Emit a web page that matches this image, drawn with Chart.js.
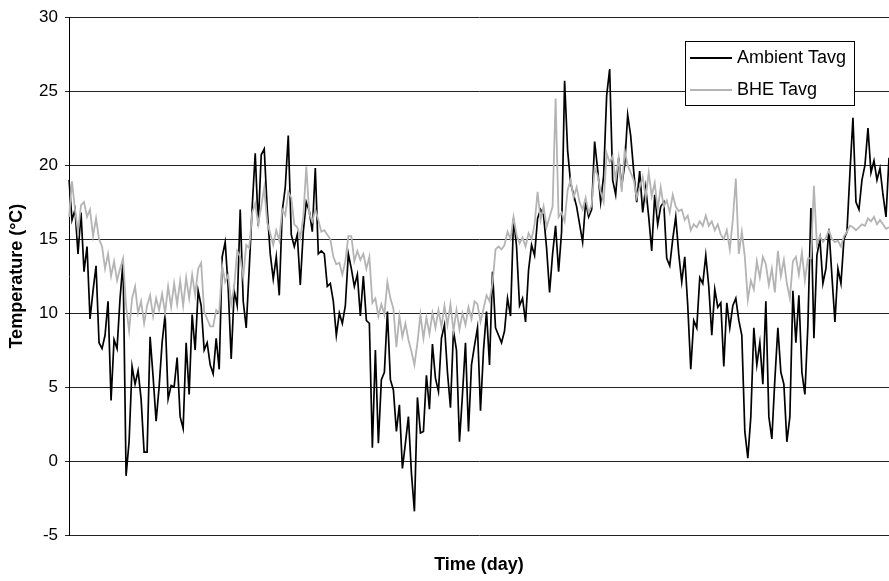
<!DOCTYPE html>
<html>
<head>
<meta charset="utf-8">
<title>Temperature (°C)</title>
<script src="https://cdn.jsdelivr.net/npm/chart.js@4.4.1/dist/chart.umd.min.js"></script>
<style>
  html, body { margin: 0; padding: 0; background: #ffffff; }
  #wrap { width: 889px; height: 581px; }
</style>
</head>
<body>
<div id="wrap"><canvas id="chart" width="889" height="581"></canvas></div>
<script>
// Series names and daily average temperatures (°C)
const seriesNames = ['Ambient Tavg', 'BHE Tavg'];

const ambientTavg = [
  19.0, 16.3, 17.0, 14.0, 16.8, 12.8, 14.5, 9.6, 11.5, 13.2, 8.0, 7.6, 8.5, 10.8, 4.1, 8.2,
  7.6, 11.0, 13.5, -1.0, 1.3, 6.4, 5.2, 6.1, 4.2, 0.6, 0.6, 8.4, 5.7, 2.7, 5.0, 8.0,
  9.9, 4.2, 5.1, 5.0, 7.0, 3.0, 2.2, 8.0, 4.5, 9.9, 7.5, 11.5, 10.5, 7.5, 8.0, 6.5,
  5.9, 8.3, 6.2, 13.8, 14.8, 11.7, 6.9, 11.5, 10.5, 17.0, 10.8, 9.0, 13.0, 17.2, 20.8, 15.9,
  20.7, 21.1, 17.0, 14.0, 12.3, 13.8, 11.2, 16.9, 18.5, 22.0, 15.3, 14.5, 15.3, 11.9, 15.5, 17.5,
  16.9, 15.5, 19.8, 14.0, 14.2, 14.0, 11.8, 12.0, 10.8, 8.5, 10.0, 9.3, 10.5, 14.0,
  13.0, 11.8, 12.6, 9.8, 12.5, 9.5, 9.3, 0.9, 7.5, 1.2, 5.5, 6.0, 10.1, 5.5, 4.8, 2.0,
  3.8, -0.5, 1.2, 3.0, -0.8, -3.4, 4.3, 1.9, 2.0, 5.8, 3.5, 7.9, 5.6, 4.7, 8.3, 9.2,
  6.0, 3.6, 8.8, 7.5, 1.3, 4.5, 8.0, 2.0, 6.5, 7.8, 9.0, 3.4, 7.5, 10.1, 6.5,
  12.8, 9.0, 8.5, 8.0, 8.8, 11.0, 9.8, 16.4, 14.5, 10.5, 11.0, 9.4, 12.9, 14.6, 13.9, 16.4,
  17.0, 16.6, 14.4, 11.4, 14.0, 15.9, 12.8, 15.5, 25.7, 21.0, 18.8, 18.0, 17.2, 16.0, 14.8, 17.5,
  16.5, 17.0, 21.6, 19.7, 17.5, 19.3, 24.7, 26.5, 19.0, 18.0, 20.5, 18.6, 20.0, 23.4, 22.0,
  19.6, 17.5, 19.6, 16.8, 18.5, 16.5, 14.2, 18.0, 16.0, 17.2, 17.5, 13.7, 13.2, 15.0, 16.5, 14.0,
  12.1, 13.8, 10.5, 6.2, 9.5, 9.0, 12.4, 12.0, 13.9, 11.8, 8.5, 11.6, 10.4, 10.7, 6.4, 10.7,
  9.0, 10.5, 11.0, 9.5, 8.5, 2.0, 0.2, 3.0, 9.0, 6.5, 8.0, 5.2, 10.8, 3.0,
  1.5, 5.5, 9.0, 6.0, 5.2, 1.3, 3.0, 11.5, 8.0, 11.2, 6.0, 4.5, 9.2, 17.1, 8.3, 13.9,
  15.0, 12.0, 13.0, 15.7, 12.5, 9.4, 13.0, 12.0, 15.0, 15.5, 19.5, 23.2, 17.5, 17.0, 19.0, 20.0,
  22.5, 19.5, 20.3, 19.0, 19.8, 18.0, 16.5, 20.5
];

const bheTavg = [
  16.5, 18.9, 17.0, 15.5, 17.3, 17.5, 16.5, 17.0, 15.2, 16.4, 15.0, 14.5, 13.0, 14.0, 12.5, 13.5,
  12.2, 13.0, 13.7, 10.5, 8.8, 11.0, 11.8, 10.0, 10.8, 9.3, 10.5, 11.2, 9.8, 11.0, 10.2, 11.3,
  10.0, 11.8, 10.4, 12.0, 10.6, 12.2, 10.5, 12.4, 11.0, 12.6, 11.2, 13.0, 13.4, 10.1, 9.6, 9.1,
  9.1, 10.2, 10.0, 13.2, 12.1, 12.6, 10.6, 11.8, 14.2, 13.8, 12.4, 14.6, 14.4, 16.8, 17.4, 16.0,
  17.2, 18.5, 16.1, 15.4, 14.6, 15.6, 14.9, 17.0, 16.6, 18.2, 17.8, 16.0, 15.8, 15.1, 16.5, 19.9,
  16.7, 16.2, 17.0, 16.3, 15.5, 15.6, 15.3, 15.0, 13.8, 13.3, 13.4, 12.6, 13.5, 15.2,
  15.2, 13.5, 14.2, 13.6, 14.0, 13.0, 13.8, 10.7, 11.0, 9.8, 10.6, 9.9, 12.1, 11.0, 10.3, 7.7,
  9.8, 8.4, 9.3, 8.2, 7.4, 6.5, 8.0, 9.9, 8.3, 9.7, 8.6, 10.0, 9.0, 10.2, 9.1, 10.5,
  9.2, 10.6, 8.8, 10.2, 8.9, 10.0, 9.2, 10.4, 9.6, 10.8, 10.6, 9.4, 10.3, 11.2, 10.8,
  12.0, 14.3, 14.5, 14.3, 14.6, 15.5, 15.0, 16.5, 15.3, 14.7, 15.1, 14.5, 15.4, 15.0, 16.0, 18.2,
  16.3, 17.2, 15.8, 16.5, 17.2, 24.5, 16.5, 16.8, 16.2, 18.3, 19.0, 17.8, 18.5, 17.5, 17.0, 17.8,
  16.8, 17.3, 19.8, 19.3, 18.2, 17.5, 20.8, 20.2, 20.6, 19.0, 20.5, 18.2, 21.0, 20.0, 19.5,
  19.0, 17.8, 18.5, 19.2, 17.8, 19.5, 17.9, 18.8, 17.0, 18.5, 17.2, 17.6, 16.8, 18.0, 17.2, 16.9,
  17.0, 16.3, 16.6, 15.6, 16.0, 15.8, 16.2, 15.9, 16.6, 15.9, 16.2, 15.6, 16.0, 15.3, 15.0, 15.6,
  14.3, 16.3, 19.1, 14.0, 15.5, 13.8, 10.9, 12.2, 11.6, 13.5, 12.4, 13.8, 13.3, 11.9,
  13.0, 11.4, 14.2, 12.5, 13.6, 12.0, 11.0, 13.5, 13.8, 12.6, 14.1, 12.2, 13.7, 13.7, 18.6, 14.6,
  15.2, 14.8, 15.1, 15.6, 15.0, 14.8, 14.9, 14.5, 15.2, 15.5, 15.9, 15.8, 15.6, 15.8, 16.0, 15.9,
  16.4, 16.2, 16.5, 16.0, 16.3, 16.0, 15.7, 15.8
];

// Value-axis ticks
const yTicks = [30, 25, 20, 15, 10, 5, 0, -5];

// One category per sample along the time axis
const days = ambientTavg.map((_, i) => i + 1);

const FONT = '"Liberation Sans", Arial, Helvetica, sans-serif';

// Boxed legend drawn inside the plot, upper right
const boxLegend = {
  id: 'boxLegend',
  afterDraw(chart) {
    const ctx = chart.ctx;
    const x = 685.5, y = 41.5, w = 169, h = 64;
    ctx.save();
    ctx.fillStyle = '#ffffff';
    ctx.fillRect(x, y, w, h);
    ctx.strokeStyle = '#000000';
    ctx.lineWidth = 1;
    ctx.strokeRect(x, y, w, h);
    ctx.font = '18px ' + FONT;
    ctx.textBaseline = 'middle';
    ctx.textAlign = 'left';
    chart.data.datasets.forEach((ds, i) => {
      const cy = 58 + i * 32;
      ctx.strokeStyle = ds.borderColor;
      ctx.lineWidth = 2;
      ctx.beginPath();
      ctx.moveTo(690, cy);
      ctx.lineTo(732, cy);
      ctx.stroke();
      ctx.fillStyle = '#000000';
      ctx.fillText(ds.label, 737, cy);
    });
    ctx.restore();
  }
};

new Chart(document.getElementById('chart'), {
  type: 'line',
  data: {
    labels: days,
    datasets: [
      {
        label: seriesNames[0],
        data: ambientTavg,
        borderColor: '#000000',
        borderWidth: 1.7,
        pointRadius: 0,
        tension: 0,
        order: 1
      },
      {
        label: seriesNames[1],
        data: bheTavg,
        borderColor: '#b4b4b4',
        borderWidth: 1.8,
        pointRadius: 0,
        tension: 0,
        order: 0
      }
    ]
  },
  options: {
    responsive: false,
    devicePixelRatio: 1,
    animation: false,
    events: [],
    layout: { padding: { top: 15, right: 0, bottom: 0, left: 0 } },
    plugins: {
      legend: { display: false },
      tooltip: { enabled: false }
    },
    scales: {
      x: {
        type: 'category',
        offset: false,
        grid: { display: false },
        border: { display: false },
        ticks: { display: false },
        title: {
          display: true,
          text: 'Time (day)',
          color: '#000000',
          font: { family: FONT, size: 18, weight: 'bold' },
          padding: { top: 0, bottom: 5 }
        },
        afterFit(scale) { scale.height = 46; }
      },
      y: {
        min: -5,
        max: 30,
        afterBuildTicks(scale) { scale.ticks = yTicks.map(v => ({ value: v })); },
        ticks: {
          color: '#000000',
          font: { family: FONT, size: 17 },
          padding: 7
        },
        grid: {
          color: '#222222',
          lineWidth: 1,
          tickLength: 4,
          drawTicks: true
        },
        border: { display: true, color: '#000000', width: 1 },
        title: {
          display: true,
          text: 'Temperature (°C)',
          color: '#000000',
          font: { family: FONT, size: 18, weight: 'bold' },
          padding: { top: 6, bottom: 0 }
        },
        afterFit(scale) { scale.width = 69; }
      }
    }
  },
  plugins: [boxLegend]
});
</script>
</body>
</html>
